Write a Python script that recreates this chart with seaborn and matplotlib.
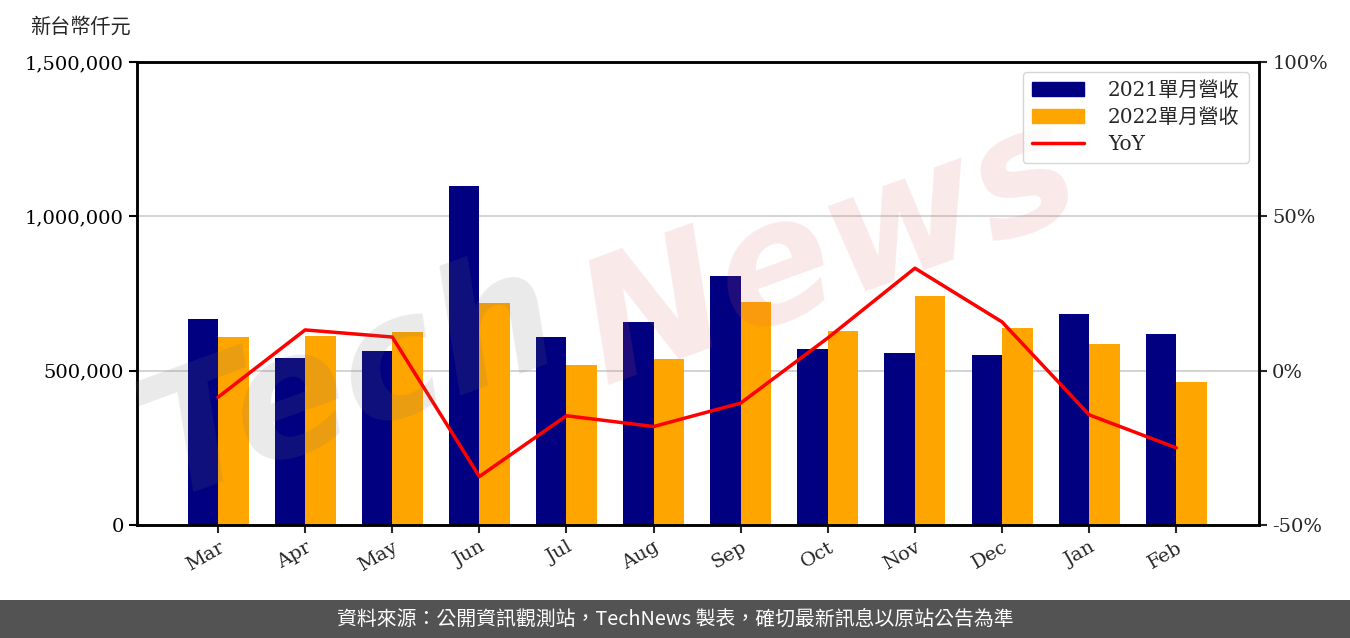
import pandas as pd
import numpy as np
import matplotlib
matplotlib.use("Agg")
import matplotlib.pyplot as plt
import matplotlib.ticker as mticker
from matplotlib.patches import Patch, Rectangle
from matplotlib.lines import Line2D
import seaborn as sns

# Data (仟元)
months = ["Mar", "Apr", "May", "Jun", "Jul", "Aug", "Sep", "Oct", "Nov", "Dec", "Jan", "Feb"]
rev_2021 = [667000, 541000, 564000, 1098000, 609000, 658000, 807000, 570000, 557000, 551000, 684000, 619000]
rev_2022 = [609000, 612000, 625000, 719000, 518000, 538000, 722000, 628000, 742000, 638000, 586000, 463000]
yoy = [-8.6, 13.2, 10.9, -34.3, -14.6, -18.1, -10.5, 10.6, 33.2, 15.8, -14.3, -25.0]

labels = ["2021單月營收", "2022單月營收"]
colors = ["#000080", "#FFA500"]

df = pd.DataFrame({
    "month": months * 2,
    "revenue": rev_2021 + rev_2022,
    "series": [labels[0]] * 12 + [labels[1]] * 12,
})

sns.set_theme(style="white")
plt.rcParams["font.family"] = ["DejaVu Serif", "Noto Sans CJK TC"]
plt.rcParams["axes.unicode_minus"] = False

fig = plt.figure(figsize=(13.5, 6.38), dpi=100)
ax = fig.add_axes([137 / 1350, 1 - 525 / 638, (1259 - 137) / 1350, (525 - 62) / 638])

sns.barplot(data=df, x="month", y="revenue", hue="series", palette=colors,
            width=0.7, gap=0, saturation=1, linewidth=0, edgecolor="none",
            ax=ax, legend=False, zorder=2)
ax.set_xlim(-0.93, 11.95)
ax.set_ylim(0, 1500000)
ax.set_yticks([0, 500000, 1000000, 1500000])
ax.yaxis.set_major_formatter(mticker.FuncFormatter(lambda v, p: f"{int(v):,}"))
ax.yaxis.grid(True, color="#cccccc", linewidth=1.2, zorder=0)
ax.set_axisbelow(True)
ax.set_xlabel("")
ax.set_ylabel("")
ax.tick_params(axis="y", labelsize=14, length=6, width=1.5, colors="black", direction="out", left=True)
ax.tick_params(axis="x", labelsize=14, length=6, width=1.5, direction="out", bottom=True)
plt.setp(ax.get_xticklabels(), rotation=30, ha="right", rotation_mode="anchor")
for s in ax.spines.values():
    s.set_color("black")
    s.set_linewidth(1.8)

ax2 = ax.twinx()
sns.lineplot(x=np.arange(len(months)), y=yoy, color="red", linewidth=2.5, ax=ax2, zorder=3)
ax2.set_ylim(-50, 100)
ax2.set_yticks([-50, 0, 50, 100])
ax2.yaxis.set_major_formatter(mticker.FuncFormatter(lambda v, p: f"{int(v)}%"))
ax2.tick_params(axis="y", labelsize=14, length=6, width=1.5, direction="out", right=True)
for s in ax2.spines.values():
    s.set_color("black")
    s.set_linewidth(1.8)

# watermark (behind the legend)
ax2.text(165 / 1350, 1 - 500 / 638, "Tech", fontsize=122, fontweight="bold", style="italic",
         color="#707070", alpha=0.15, rotation=20, rotation_mode="anchor", ha="left",
         va="baseline", family=["DejaVu Sans"], transform=fig.transFigure, zorder=4)
ax2.text(605 / 1350, 1 - 385 / 638, "News", fontsize=122, fontweight="bold", style="italic",
         color="#e06060", alpha=0.14, rotation=20, rotation_mode="anchor", ha="left",
         va="baseline", family=["DejaVu Sans"], transform=fig.transFigure, zorder=4)

handles = [Patch(color=colors[0], label=labels[0]),
           Patch(color=colors[1], label=labels[1]),
           Line2D([], [], color="red", linewidth=2.5, label="YoY")]
leg = ax2.legend(handles=handles, loc="upper right", fontsize=14.5, frameon=True,
                 fancybox=True, edgecolor="#cccccc", borderpad=0.45, handlelength=2.6,
                 handletextpad=1.2, labelspacing=0.4)
leg.set_zorder(10)

fig.text(30 / 1350, 1 - 27 / 638, "新台幣仟元", fontsize=14.5, va="center", ha="left",
         family=["Noto Sans CJK TC"])

# footer
fig.patches.append(Rectangle((0, 0), 1, 38 / 638, transform=fig.transFigure,
                             facecolor="#535353", edgecolor="none", zorder=0))
fig.text(0.5, 19 / 638, "資料來源：公開資訊觀測站，TechNews 製表，確切最新訊息以原站公告為準",
         color="white", fontsize=14.3, ha="center", va="center", family=["Noto Sans CJK TC"])

fig.savefig("out.png", dpi=100)
